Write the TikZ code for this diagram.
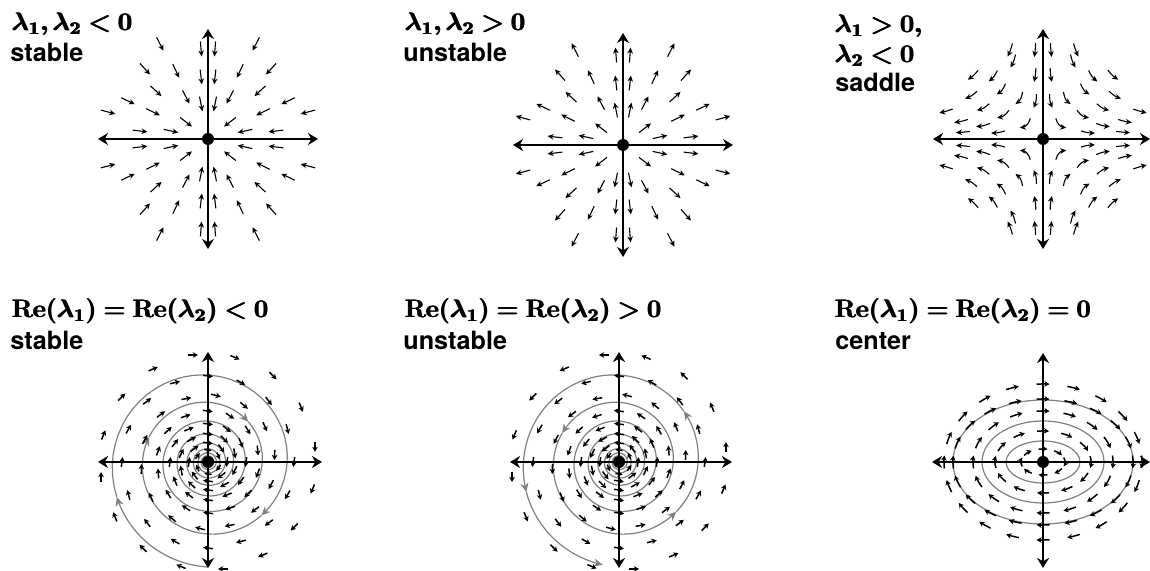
\documentclass[tikz,border=0pt]{standalone}
\usepackage{fix-cm}
\usepackage{amsmath}
\usepackage[no-math]{fontspec}
\newfontfamily\heros{TeX Gyre Heros}
\usetikzlibrary{arrows.meta}
\DeclareSymbolFont{bletters}{OML}{cmm}{b}{it}
\DeclareSymbolFont{bops}{OT1}{cmr}{bx}{n}
\DeclareMathAlphabet{\mbf}{OT1}{cmr}{bx}{n}
\DeclareMathSymbol{\blam}{\mathord}{bletters}{"15}
\DeclareMathSymbol{\blt}{\mathrel}{bletters}{"3C}
\DeclareMathSymbol{\bgt}{\mathrel}{bletters}{"3E}
\DeclareMathSymbol{\bcomma}{\mathpunct}{bletters}{"3B}
\DeclareMathSymbol{\beq}{\mathrel}{bops}{"3D}
\DeclareMathSymbol{\blp}{\mathopen}{bops}{"28}
\DeclareMathSymbol{\brp}{\mathclose}{bops}{"29}
\newcommand\lamb[1]{\blam_{\mbf{#1}}}
\newcommand\relam[1]{\mbf{Re}\blp\lamb{#1}\brp}

\begin{document}
\begin{tikzpicture}[x=0.5pt, y=0.5pt,
  lbl/.style={anchor=base west, inner sep=0pt, font=\heros\bfseries\fontsize{12.6}{15}\selectfont},
  axis/.style={line width=1pt, {Stealth[length=5pt,width=6pt]}-{Stealth[length=5pt,width=6pt]}},
  vec/.style={line width=0.55pt, -{Stealth[length=3pt,width=2.8pt]}},
  svec/.style={line width=0.75pt, -{Stealth[length=2.6pt,width=2.8pt]}},
  traj/.style={draw=black!50, line width=0.6pt},
  dot/.style={circle, fill=black, inner sep=0pt, minimum size=6pt}
]
\useasboundingbox (0,0) rectangle (1150,571);

% labels
\node[lbl] (l1a) at (12,540) {$\pmb{\lamb{1}\bcomma \lamb{2} \blt \mbf{0}}$};
\node[lbl] (l1b) at (10,509) {stable};
\node[lbl] (l2a) at (405,540) {$\pmb{\lamb{1}\bcomma \lamb{2} \bgt \mbf{0}}$};
\node[lbl] (l2b) at (403,509) {unstable};
\node[lbl] (l3a) at (835,538) {$\pmb{\lamb{1} \bgt \mbf{0}\bcomma}$};
\node[lbl] (l3b) at (835,508) {$\pmb{\lamb{2} \blt \mbf{0}}$};
\node[lbl] (l3c) at (835,479) {saddle};
\node[lbl] (l4a) at (12,253) {$\pmb{\relam{1} \beq \relam{2} \blt \mbf{0}}$};
\node[lbl] (l4b) at (10,221) {stable};
\node[lbl] (l5a) at (405,253) {$\pmb{\relam{1} \beq \relam{2} \bgt \mbf{0}}$};
\node[lbl] (l5b) at (403,221) {unstable};
\node[lbl] (l6a) at (835,253) {$\pmb{\relam{1} \beq \relam{2} \beq \mbf{0}}$};
\node[lbl] (l6b) at (835,221) {center};

% stable node
\begin{scope}[shift={(208,432)}]
  \foreach \px/\py in {7/90,7/62,7/35,48/95,32/68,63/70,52/48,22/42,80/38,55/27,100/27,22/17,37/8,68/8}
    \foreach \sx/\sy in {1/1,-1/1,-1/-1,1/-1}{
      \pgfmathsetmacro\ang{atan2(\sy*\py,\sx*\px)}
      \pgfmathsetmacro\rad{veclen(\px,\py)}
      \draw[vec] ({\ang}:{\rad+7.5}) -- ({\ang}:{\rad-7.5});
    }
  \draw[axis] (-110,0) -- (110,0);
  \draw[axis] (0,-110) -- (0,110);
  \node[dot] (o1) at (0,0) {};
\end{scope}

% unstable node
\begin{scope}[shift={(623,426)}]
  \foreach \px/\py in {7/90,7/62,7/35,48/95,32/68,63/70,52/48,22/42,80/38,55/27,100/27,22/17,37/8,68/8}
    \foreach \sx/\sy in {1/1,-1/1,-1/-1,1/-1}{
      \pgfmathsetmacro\ang{atan2(\sy*\py,\sx*\px)}
      \pgfmathsetmacro\rad{veclen(\px,\py)}
      \draw[vec] ({\ang}:{\rad-7.5}) -- ({\ang}:{\rad+7.5});
    }
  \draw[axis] (-110,0) -- (110,0);
  \draw[axis] (0,-112) -- (0,112);
  \node[dot] (o2) at (0,0) {};
\end{scope}

% saddle
\begin{scope}[shift={(1043,432)}]
  \foreach \px/\py in {8/38,8/64,8/89,33/89,30/78,50/63,70/64,42/50,72/44,24/41,60/32,97/28,40/25,82/18,18/16,60/14,45/7,80/7}
    \foreach \sx/\sy in {1/1,-1/1,-1/-1,1/-1}{
      \pgfmathsetmacro\rad{veclen(\px,\py)}
      \pgfmathsetmacro\ux{\sx*\px/\rad}
      \pgfmathsetmacro\uy{-\sy*\py/\rad}
      \pgfmathsetmacro\bnd{-\sx*\sy*45*(2*\px*\py/(\rad*\rad))*max(0,1-\rad/115)}
      \draw[vec] ({\sx*\px-7*\ux},{\sy*\py-7*\uy}) to[bend left=\bnd] ({\sx*\px+7*\ux},{\sy*\py+7*\uy});
    }
  \draw[axis] (-110,0) -- (107,0);
  \draw[axis] (0,-110) -- (0,110);
  \node[dot] (o3) at (0,0) {};
\end{scope}

% stable spiral
\begin{scope}[shift={(208,109)}]
  \foreach \ta/\tb in {0/69,69/315,315/473,473/585}
    \draw[traj, -{Stealth[length=4.5pt,width=4pt]}] plot[domain=\ta:\tb, samples=40] ({-90-\x}:{105*exp(-0.06*rad(\x))});
  \draw[traj] plot[domain=585:3600, samples=500] ({-90-\x}:{105*exp(-0.06*rad(\x))});
  \foreach \rr/\nn/\off in {108/16/8, 86/16/0, 67/14/6, 51/14/13, 38/12/0, 28/10/18, 19/8/0, 12/6/30}
    \foreach \k in {1,...,\nn}{
      \pgfmathsetmacro\ph{\off+\k*360/\nn}
      \pgfmathsetmacro\hl{min(5,0.18*\rr+1.5)}
      \draw[svec, shift={(\ph:\rr)}] ({\ph+82}:\hl) -- ({\ph-98}:\hl);
    }
  \draw[axis] (-110,0) -- (114,0);
  \draw[axis] (0,-106) -- (0,110);
  \node[dot] (o4) at (0,0) {};
\end{scope}

% unstable spiral
\begin{scope}[shift={(619,109)}]
  \foreach \ta/\tb in {9/72,72/232,232/311,311/477}
    \draw[traj, {Stealth[length=4.5pt,width=4pt]}-] plot[domain=\ta:\tb, samples=40] ({-90-\x}:{105*exp(-0.06*rad(\x))});
  \draw[traj, {Stealth[length=4.5pt,width=4pt]}-] plot[domain=477:3600, samples=500] ({-90-\x}:{105*exp(-0.06*rad(\x))});
  \foreach \rr/\nn/\off in {108/16/8, 86/16/0, 67/14/6, 51/14/13, 38/12/0, 28/10/18, 19/8/0, 12/6/30}
    \foreach \k in {1,...,\nn}{
      \pgfmathsetmacro\ph{\off+\k*360/\nn}
      \pgfmathsetmacro\hl{min(5,0.18*\rr+1.5)}
      \draw[svec, shift={(\ph:\rr)}] ({\ph-98}:\hl) -- ({\ph+82}:\hl);
    }
  \draw[axis] (-109,0) -- (113,0);
  \draw[axis] (0,-106) -- (0,110);
  \node[dot] (o5) at (0,0) {};
\end{scope}

% center
\begin{scope}[shift={(1043,109)}]
  \draw[traj] (0,0) ellipse[x radius=90, y radius=62];
  \draw[traj] (0,0) ellipse[x radius=61, y radius=41];
  \draw[traj] (0,0) ellipse[x radius=37, y radius=21];
  \foreach \ra/\rb/\nn/\hs in {22/13/8/4.5,48/31/12/6,70/51/16/6.5,90/63/20/6.5,99/78/20/6.5}
    \foreach \k in {1,...,\nn}{
      \pgfmathsetmacro\ang{\k*360/\nn}
      \pgfmathsetmacro\spd{veclen(\ra*sin(\ang),\rb*cos(\ang))}
      \pgfmathsetmacro\half{\hs/\spd*57.3}
      \pgfmathsetmacro\sang{\ang+\half}
      \pgfmathsetmacro\eang{\ang-\half}
      \draw[svec] ({\ra*cos(\sang)},{\rb*sin(\sang)}) arc[start angle=\sang, end angle=\eang, x radius=\ra, y radius=\rb];
    }
  \draw[axis] (-111,0) -- (107,0);
  \draw[axis] (0,-106) -- (0,109);
  \node[dot] (o6) at (0,0) {};
\end{scope}
\end{tikzpicture}
\end{document}
